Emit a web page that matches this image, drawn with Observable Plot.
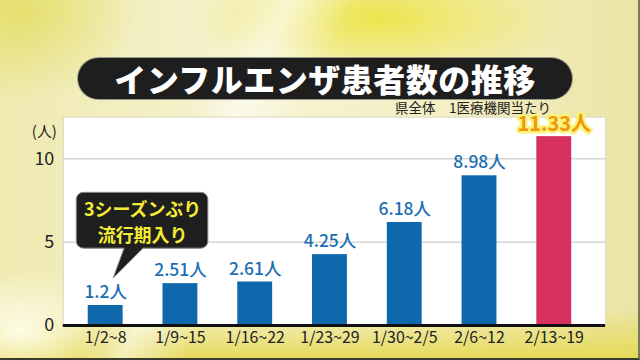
<!DOCTYPE html>
<html>
<head>
<meta charset="utf-8">
<script src="https://cdn.jsdelivr.net/npm/d3@7"></script>
<script src="https://cdn.jsdelivr.net/npm/@observablehq/plot@0.6"></script>
<style>
  html, body { margin: 0; padding: 0; }
  body { width: 640px; height: 360px; overflow: hidden; font-family: "Noto Sans CJK JP", "Noto Sans", sans-serif; }
  #stage {
    position: relative; width: 640px; height: 360px; box-sizing: border-box;
    border-right: 2px solid #7a785a; border-bottom: 2px solid #3a3a30;
    background:
      linear-gradient(115deg, rgba(255,255,255,0) 30%, rgba(255,255,255,0.55) 36%, rgba(255,255,255,0) 44%),
      radial-gradient(ellipse 190px 70px at 380px 18px, rgba(236,228,70,0.95), rgba(236,228,70,0)),
      radial-gradient(ellipse 120px 90px at 20px 10px, rgba(226,220,90,0.8), rgba(226,220,90,0)),
      radial-gradient(ellipse 90px 60px at 20px 330px, rgba(255,255,240,0.9), rgba(255,255,240,0)),
      linear-gradient(to bottom, rgba(0,0,0,0) 86%, rgba(228,216,80,0.9) 100%),
      linear-gradient(to right, #efeab0 0%, #f6f3d2 40%, #f4efc4 70%, #ebe5a6 100%);
  }
  #title {
    position: absolute; left: 78px; top: 58px; width: 494px; height: 41px;
    border-radius: 21px; background: #1e1e1e; box-shadow: 0 0 0 1px #9a9a8a;
    color: #fff; font-weight: 900; font-size: 32px; line-height: 41px; text-align: center;
    letter-spacing: 0.5px;
  }
  #subtitle {
    position: absolute; right: 87px; top: 101px; font-size: 13.5px; line-height: 13px; color: #222; white-space: pre;
  }
  #chart { position: absolute; left: 0; top: 0; }
</style>
</head>
<body>
<div id="stage">
  <div id="title">インフルエンザ患者数の推移</div>
  <div id="subtitle">県全体　1医療機関当たり</div>
  <div id="chart"></div>
</div>
<script>
const weeks = ["1/2~8", "1/9~15", "1/16~22", "1/23~29", "1/30~2/5", "2/6~12", "2/13~19"];
const patients = [1.2, 2.51, 2.61, 4.25, 6.18, 8.98, 11.33];
const yTicks = [0, 5, 10];
const unitLabel = "(人)";
const calloutLines = ["3シーズンぶり", "流行期入り"];
const calloutWeek = weeks[0];
const latestWeek = weeks[weeks.length - 1];

const data = weeks.map((w, i) => ({week: w, value: patients[i]}));
const normal = data.filter(d => d.week !== latestWeek);
const latest = data.filter(d => d.week === latestWeek);
const calloutData = data.filter(d => d.week === calloutWeek);

const BLUE = "#0f67ac";
const PINK = "#d8315f";
const LABEL_BLUE = "#1d6fb3";
const FONT = "'Noto Sans CJK JP', sans-serif";

// callout box drawn through the chart's own scales
const calloutBox = (index, scales) => {
  const x = scales.x, y = scales.y;
  const bw = typeof x.bandwidth === "function" ? x.bandwidth() : 0;
  const px = x(calloutWeek) + bw / 2;
  const py = y(calloutData[0].value);
  const left = px - 29, top = py - 113, w = 132, h = 56, r = 7;
  const g = d3.create("svg:g");
  g.append("path")
    .attr("d", `M${left + r},${top}h${w - 2 * r}a${r},${r} 0 0 1 ${r},${r}v${h - 2 * r}a${r},${r} 0 0 1 ${-r},${r}` +
      `H${px + 38}L${px + 8},${py - 27}L${px + 19},${top + h}H${left + r}a${r},${r} 0 0 1 ${-r},${-r}v${-(h - 2 * r)}a${r},${r} 0 0 1 ${r},${-r}z`)
    .attr("fill", "#1f1f1f")
    .attr("stroke", "#8a8a80")
    .attr("stroke-width", 1);
  return g.node();
};

const plot = Plot.plot({
  width: 640,
  height: 360,
  marginTop: 117,
  marginBottom: 34,
  marginLeft: 63,
  marginRight: 33,
  style: {background: "transparent", fontFamily: FONT},
  x: {domain: weeks, paddingInner: 0.54, paddingOuter: 0.27, insetLeft: 3, insetRight: 13},
  y: {domain: [0, 12.5]},
  marks: [
    Plot.frame({fill: "white", stroke: "#d9d7c4"}),
    Plot.ruleY(yTicks.filter(t => t > 0), {stroke: "#d6d6d6", strokeWidth: 1.5}),
    Plot.barY(normal, {x: "week", y: "value", fill: BLUE}),
    Plot.barY(latest, {x: "week", y: "value", fill: PINK}),
    Plot.ruleY([0], {stroke: "#111", strokeWidth: 3}),
    Plot.axisX({tickSize: 0, tickPadding: 6, fontSize: 16, label: null, fill: "#222"}),
    Plot.axisY({ticks: yTicks, tickSize: 0, tickPadding: 9, fontSize: 18, label: null, fill: "#222"}),
    Plot.text([unitLabel], {frameAnchor: "top-left", textAnchor: "middle", dx: -19, dy: 9, fontSize: 15, fill: "#222"}),
    Plot.text(normal, {x: "week", y: "value", text: d => d.value + "人", dy: -13, fontSize: 17.5, fontWeight: 500, fill: LABEL_BLUE}),
    Plot.text(latest, {x: "week", y: "value", text: d => d.value + "人", dy: -12, fontSize: 20, fontWeight: 700,
      fill: "#ee9808", stroke: "#fbf27a", strokeWidth: 5, strokeLinejoin: "round"}),
    calloutBox,
    Plot.text(calloutData, {x: "week", y: "value", text: () => calloutLines.join("\n"), dx: 37, dy: -85,
      fontSize: 18, fontWeight: 700, lineHeight: 1.45, fill: "#f4ec35"})
  ]
});
document.getElementById("chart").appendChild(plot);
</script>
</body>
</html>
